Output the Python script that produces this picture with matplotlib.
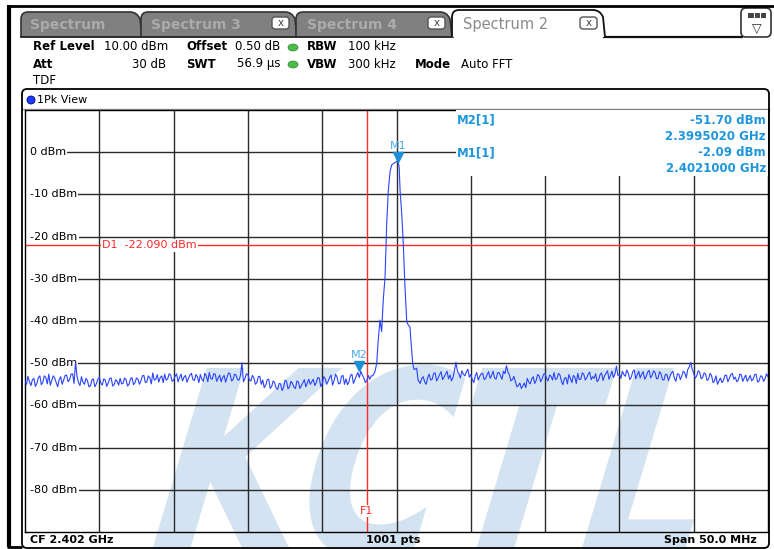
import numpy as np
import matplotlib
matplotlib.use("Agg")
import matplotlib.pyplot as plt
from matplotlib.patches import FancyBboxPatch, Rectangle, Ellipse, PathPatch
from matplotlib.path import Path
from matplotlib.textpath import TextPath
from matplotlib.font_manager import FontProperties
from matplotlib.transforms import Affine2D, offset_copy

plt.rcParams['font.family'] = ['DejaVu Sans']

# ---------------- data ----------------
f_start_mhz = 2377.0
f_stop_mhz = 2427.0
ref_level = 10.0
bottom_level = -90.0
y_ticks_dbm = [0, -10, -20, -30, -40, -50, -60, -70, -80]
step_mhz = 0.2

# noise floor left of the carrier: samples at 2377.0, 2377.2, ...
noise_left = [
    -54.2, -53.1, -55.3, -53.6, -54.8, -53.0, -54.5, -53.4, -52.6, -54.1,
    -53.5, -55.6, -53.2, -54.0, -52.8, -53.9, -52.5, -49.8, -54.6, -53.2,
    -55.0, -54.1, -55.4, -53.7, -54.9, -53.3, -55.2, -54.0, -54.7, -53.5,
    -55.1, -54.3, -53.6, -54.8, -53.9, -55.0, -53.4, -54.6, -53.8, -54.2,
    -52.9, -54.4, -53.5, -52.3, -53.8, -54.5, -53.0, -52.6, -53.7, -52.8,
    -54.0, -52.5, -53.4, -54.2, -52.9, -53.6, -52.4, -54.1, -53.2, -52.7,
    -54.3, -53.0, -52.2, -53.8, -52.6, -53.5, -54.4, -52.9, -53.3, -52.5,
    -53.9, -52.8, -54.0, -49.9, -53.6, -52.7, -54.2, -53.4, -54.6, -53.1,
    -54.0, -55.2, -53.8, -55.5, -54.6, -56.2, -54.9, -55.8, -54.3, -55.6,
    -54.8, -56.0, -54.5, -55.3, -53.9, -54.7, -55.0, -53.8, -54.6, -53.5,
    -54.9, -53.6, -54.3, -52.8, -54.1, -53.3, -54.8, -52.9, -53.7, -54.4,
    -52.6, -53.9, -52.2, -51.9, -53.5, -54.2, -53.8,
]
# in-between samples at 2377.1, 2377.3, ...
noise_left_mid = [
    -55.0, -54.4, -53.9, -55.5, -53.4, -55.1, -53.0, -54.9, -55.2, -53.0,
    -54.6, -53.9, -55.0, -52.9, -54.4, -52.6, -54.8, -53.1, -55.3, -54.5,
    -53.6, -55.6, -54.0, -55.6, -53.8, -54.7, -53.7, -55.5, -53.6, -55.4,
    -53.9, -55.2, -54.9, -53.5, -55.4, -53.7, -55.1, -53.5, -55.0, -53.0,
    -54.6, -53.0, -54.9, -54.0, -52.7, -53.4, -54.6, -54.0, -52.5, -54.3,
    -53.1, -54.4, -52.6, -53.3, -54.5, -52.8, -53.9, -52.7, -54.6, -53.8,
    -52.4, -54.4, -53.6, -52.5, -54.3, -52.8, -53.4, -54.5, -52.3, -54.2,
    -52.6, -53.9, -52.9, -54.4, -52.5, -54.0, -52.9, -55.0, -53.2, -55.0,
    -55.8, -53.9, -56.0, -54.2, -55.9, -54.8, -56.5, -54.0, -56.1, -54.3,
    -55.7, -54.2, -56.0, -54.6, -55.6, -53.8, -54.4, -55.3, -53.4, -55.5,
    -53.2, -55.0, -53.4, -55.2, -52.6, -54.9, -53.1, -55.0, -55.1, -52.9,
    -54.8, -53.0, -53.4, -52.8, -54.6, -52.9, -53.0,
]

peak_freq = [2400.40, 2400.55, 2400.67, 2400.76, 2400.89, 2401.00, 2401.11,
             2401.23, 2401.34, 2401.45, 2401.57, 2401.68, 2401.83, 2401.95,
             2402.10, 2402.18, 2402.24, 2402.35, 2402.46, 2402.57, 2402.69,
             2402.80, 2402.91, 2402.95, 2403.09, 2403.18, 2403.36, 2403.45]
peak_level = [-53.0, -52.0, -50.0, -45.0, -39.8, -42.5, -35.0,
              -29.5, -17.0, -9.0, -4.5, -3.0, -2.6, -2.3,
              -2.09, -3.5, -9.0, -14.4, -22.0, -31.9, -40.2,
              -41.0, -41.5, -43.7, -50.0, -51.5, -51.2, -54.0]

# noise floor right of the carrier: samples ending at 2427.0 (step 0.2)
noise_right = [
    -54.8, -53.2, -55.0, -52.6, -53.8, -52.3, -53.5, -52.0, -53.3, -51.9,
    -52.8, -53.4, -49.8, -52.5, -51.8, -53.0, -51.4, -52.7, -54.6, -52.2,
    -53.1, -52.4, -53.6, -52.0, -52.9, -53.5, -52.3, -53.0, -51.9, -50.6,
    -52.8, -53.9, -54.4, -55.3, -56.0, -54.7, -53.6, -54.9, -53.2, -54.1,
    -53.0, -53.7, -52.5, -54.2, -53.1, -52.2, -53.6, -52.8, -55.1, -53.4,
    -52.7, -54.6, -53.3, -52.4, -53.8, -52.6, -53.5, -52.1, -53.2, -52.5,
    -53.9, -52.3, -53.0, -51.8, -52.9, -53.4, -50.7, -52.6, -51.9, -53.1,
    -52.4, -53.3, -51.6, -52.8, -53.5, -52.0, -53.2, -51.7, -52.9, -52.2,
    -53.6, -52.5, -54.0, -52.7, -53.1, -51.9, -54.3, -52.6, -53.0, -52.3,
    -51.5, -49.8, -52.4, -53.0, -52.1, -53.4, -52.6, -53.8, -52.9, -54.2,
    -55.0, -53.5, -54.1, -52.8, -53.6, -52.4, -53.3, -54.0, -52.7, -53.5,
    -54.3, -52.9, -53.8, -52.6, -54.2, -53.1, -53.7, -53.2,
]
# in-between samples ending at 2426.9
noise_right_mid = [
    -53.6, -54.5, -53.4, -54.0, -52.4, -54.2, -52.7, -53.9, -52.6, -53.7,
    -54.2, -51.8, -51.9, -53.5, -52.6, -52.1, -53.3, -53.9, -53.0, -54.0,
    -52.5, -53.9, -52.7, -53.6, -51.9, -53.8, -52.2, -53.8, -52.5, -52.1,
    -54.2, -53.1, -55.6, -54.7, -55.4, -55.8, -54.5, -53.7, -54.8, -52.7,
    -54.4, -52.6, -53.6, -52.8, -54.0, -53.9, -52.4, -54.3, -53.6, -54.9,
    -53.6, -52.9, -54.8, -53.9, -52.3, -54.0, -52.6, -53.9, -53.6, -54.4,
    -52.7, -54.1, -52.4, -53.8, -51.9, -52.6, -52.9, -53.6, -52.7, -51.6,
    -53.9, -52.0, -53.7, -51.9, -52.6, -53.8, -52.1, -53.5, -51.8, -53.7,
    -52.0, -53.9, -52.6, -54.1, -52.3, -53.6, -52.5, -53.9, -51.9, -53.5,
    -50.9, -51.4, -53.6, -51.8, -53.7, -52.3, -54.1, -52.4, -54.6, -53.0,
    -54.2, -54.6, -52.9, -54.4, -52.7, -53.8, -54.4, -52.6, -54.3, -52.8,
    -53.7, -54.2, -52.7, -54.5, -53.0, -54.3, -52.5,
]

marker_names = ["M1", "M2"]
marker_freq = [2402.1, 2399.502]
marker_level = [-2.09, -51.70]
display_line_d1 = -22.090
freq_line_f1 = 2400.0

# ---------------- figure ----------------
W, H = 774, 549
fig = plt.figure(figsize=(W / 100, H / 100), dpi=100)
ov = fig.add_axes([0, 0, 1, 1])
ov.set_xlim(0, W)
ov.set_ylim(H, 0)
ov.axis('off')
ov.set_zorder(0)

PX_L, PX_R, PX_T, PX_B = 25, 768, 110, 532
ax = fig.add_axes([PX_L / W, (H - PX_B) / H, (PX_R - PX_L) / W, (PX_B - PX_T) / H])
ax.set_zorder(2)
ax.patch.set_alpha(0)
ax.set_xlim(f_start_mhz, f_stop_mhz)
ax.set_ylim(bottom_level, ref_level)
ax.set_xticks([])
ax.set_yticks([])
for s in ax.spines.values():
    s.set_color('black')
    s.set_linewidth(1.0)

# grid
grid_c = '#2a2a2a'
for k in range(1, 10):
    ax.axvline(f_start_mhz + k * 5.0, color=grid_c, lw=1.0, zorder=1)
for v in y_ticks_dbm:
    ax.axhline(v, color=grid_c, lw=1.0, zorder=1)
# white margin strip so grid lines start at the labels
ax.add_patch(Rectangle((0, 0), 6 / 743, 1, transform=ax.transAxes, fc='white',
                       ec='none', zorder=1.5))

# y labels
ytr = ax.get_yaxis_transform()
for v in y_ticks_dbm:
    ax.text(5 / 743, v, f"{v} dBm", transform=ytr, ha='left', va='center',
            fontsize=8, color='black', zorder=2,
            bbox=dict(fc='white', ec='none', boxstyle='square,pad=0.12'))

# red lines
red = '#ff2a2a'
ax.axhline(display_line_d1, color=red, lw=1.0, zorder=2.5)
ax.axvline(freq_line_f1, color=red, lw=1.0, zorder=2.5)
ax.text((102 - 25) / 743, display_line_d1, f"D1  {display_line_d1:.3f} dBm", transform=ytr,
        ha='left', va='center', fontsize=8, color=red, zorder=2.6,
        bbox=dict(fc='white', ec='none', boxstyle='square,pad=0.1'))
ax.text(freq_line_f1, -85.0, "F1", ha='center', va='center', fontsize=8, color=red,
        zorder=2.6, bbox=dict(fc='white', ec='none', boxstyle='square,pad=0.1'))

# trace
left_freq = f_start_mhz + step_mhz * np.arange(len(noise_left))
left_mid_freq = f_start_mhz + step_mhz / 2 + step_mhz * np.arange(len(noise_left_mid))
right_freq = f_stop_mhz - step_mhz * np.arange(len(noise_right))[::-1]
right_mid_freq = f_stop_mhz - step_mhz / 2 - step_mhz * np.arange(len(noise_right_mid))[::-1]
tr_f = np.concatenate([left_freq, left_mid_freq, np.array(peak_freq), right_freq, right_mid_freq])
tr_l = np.concatenate([np.array(noise_left), np.array(noise_left_mid), np.array(peak_level),
                       np.array(noise_right), np.array(noise_right_mid)])
order = np.argsort(tr_f, kind='stable')
ax.plot(tr_f[order], tr_l[order], color='#2a44ff', lw=0.8, zorder=4, clip_on=True)

# marker table box
ax.add_patch(Rectangle((0.58, (532 - 176) / 422), 0.42, 1 - (532 - 176) / 422,
                       transform=ax.transAxes, fc='white', ec='none', zorder=3))

# markers
mk_c = '#1e8ed8'
tri_tr = offset_copy(ax.transData, fig=fig, x=0, y=4.5, units='dots')
for n, f, l in zip(marker_names, marker_freq, marker_level):
    ax.plot([f], [l], marker='v', ms=7, color=mk_c, mec=mk_c, transform=tri_tr, zorder=5)
    ax.annotate(n, (f, l), xytext=(0, 10), textcoords='offset pixels', ha='center',
                va='bottom', fontsize=8, color='#4aaae6', zorder=5)

# marker table text (pixel coords)
tc = '#1e96dc'
pt = ov.transData
ax.text(457, 120, "M2[1]", transform=pt, ha='left', va='center', fontsize=8.5,
        fontweight='bold', color=tc, zorder=6)
ax.text(766, 120, f"{marker_level[1]:.2f} dBm", transform=pt, ha='right', va='center',
        fontsize=8.5, fontweight='bold', color=tc, zorder=6)
ax.text(766, 136, f"{marker_freq[1] / 1000:.7f} GHz", transform=pt, ha='right', va='center',
        fontsize=8.5, fontweight='bold', color=tc, zorder=6)
ax.text(457, 153, "M1[1]", transform=pt, ha='left', va='center', fontsize=8.5,
        fontweight='bold', color=tc, zorder=6)
ax.text(766, 153, f"{marker_level[0]:.2f} dBm", transform=pt, ha='right', va='center',
        fontsize=8.5, fontweight='bold', color=tc, zorder=6)
ax.text(766, 169, f"{marker_freq[0] / 1000:.7f} GHz", transform=pt, ha='right', va='center',
        fontsize=8.5, fontweight='bold', color=tc, zorder=6)

# ---------------- decorations (pixel coords) ----------------
def T(x, y, s, **kw):
    kw.setdefault('va', 'center')
    kw.setdefault('fontsize', 8.5)
    kw.setdefault('zorder', 3)
    return ov.text(x, y, s, **kw)

# watermark
fp = FontProperties(family='DejaVu Sans', weight='bold')
tp = TextPath((0, 0), "KCTL", size=1, prop=fp)
wm_tr = Affine2D().scale(200, 258).skew_deg(16.7, 0).scale(1, -1).translate(132, 556)
ov.add_patch(PathPatch(wm_tr.transform_path(tp), fc='#d4e3f1', ec='none', zorder=0.5))

# outer frame
ov.plot([8.5, 8.5], [5, 547], color='black', lw=3, zorder=4, solid_capstyle='butt')
ov.plot([7, 774], [5.5, 5.5], color='black', lw=2, zorder=4, solid_capstyle='butt')
ov.plot([7, 22], [547, 547], color='black', lw=2, zorder=4, solid_capstyle='butt')

# tabs
def tab_path(xl, xr, top, bot=37, r=7):
    verts = [(xl, bot), (xl, top + r), (xl, top), (xl + r, top),
             (xr - r, top), (xr, top), (xr + 3, top + r), (xr + 5, bot)]
    codes = [Path.MOVETO, Path.LINETO, Path.CURVE3, Path.CURVE3,
             Path.LINETO, Path.CURVE3, Path.CURVE3, Path.LINETO]
    return Path(verts, codes)

for xl, xr in [(21, 137), (141, 292), (296, 447)]:
    ov.add_patch(PathPatch(tab_path(xl, xr, 12), fc='#808080', ec='#333333', lw=1.2, zorder=2))
ov.add_patch(PathPatch(tab_path(452, 600, 10), fc='white', ec='#111111', lw=1.3, zorder=2.2))
ov.plot([21, 453], [37, 37], color='#222222', lw=1.3, zorder=2.1)
ov.plot([604, 742], [37, 37], color='#111111', lw=1.6, zorder=2.1)

T(30, 25, "Spectrum", fontsize=10, fontweight='bold', color='#ababab')
T(151, 25, "Spectrum 3", fontsize=10, fontweight='bold', color='#ababab')
T(307, 25, "Spectrum 4", fontsize=10, fontweight='bold', color='#ababab')
T(463, 24, "Spectrum 2", fontsize=10.5, color='#8a8a8a')

for bx in [272, 428, 580]:
    ov.add_patch(FancyBboxPatch((bx, 17), 17, 12, boxstyle='round,pad=0,rounding_size=3',
                                fc='white', ec='#555555', lw=1, zorder=3))
    T(bx + 8.5, 23, "x", ha='center', fontsize=7.5, color='#444444', zorder=3.5)

# icon box
ov.add_patch(FancyBboxPatch((741, 8), 30, 29, boxstyle='round,pad=0,rounding_size=5',
                            fc='white', ec='#333333', lw=1.2, zorder=3))
ov.add_patch(Rectangle((748, 12.5), 18, 5, fc='#444444', ec='none', zorder=3.5))
for dx in [754, 760]:
    ov.plot([dx, dx], [13, 17], color='white', lw=0.8, zorder=3.6)
T(757, 28, "\u25BD", ha='center', fontsize=9, color='#333333', zorder=3.5)

# header
B = dict(fontweight='bold')
T(33, 47, "Ref Level", **B)
T(104, 47, "10.00 dBm")
T(186, 47, "Offset", **B)
T(235, 47, "0.50 dB")
T(307, 47, "RBW", **B)
T(348, 47, "100 kHz")
T(33, 64, "Att", **B)
T(166, 64, "30 dB", ha='right')
T(186, 64, "SWT", **B)
T(237, 64, "56.9 \u00b5s")
T(307, 64, "VBW", **B)
T(348, 64, "300 kHz")
T(415, 64, "Mode", **B)
T(461, 64, "Auto FFT")
T(33, 81, "TDF")
for yy in [47.5, 64.5]:
    ov.add_patch(Ellipse((293, yy), 10, 7, fc='#4cbb4c', ec='#2e8b2e', lw=0.5, zorder=3))

# view frame
ov.add_patch(FancyBboxPatch((22, 89), 747, 459, boxstyle='round,pad=0,rounding_size=5',
                            fc='none', ec='black', lw=1.3, zorder=4))
ov.plot([22, 769], [108.5, 108.5], color='#999999', lw=1, zorder=3)
ov.add_patch(Ellipse((31, 100), 8, 8, fc='#1a3cff', ec='#000080', lw=0.6, zorder=3))
T(37, 100, "1Pk View", fontsize=8)

# footer
T(30, 540, "CF 2.402 GHz", fontsize=8, fontweight='bold')
T(393, 540, "1001 pts", ha='center', fontsize=8, fontweight='bold')
T(757, 540, "Span 50.0 MHz", ha='right', fontsize=8, fontweight='bold')

fig.savefig("out.png", dpi=100)
